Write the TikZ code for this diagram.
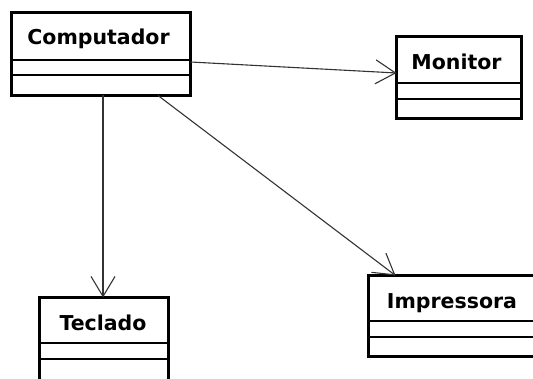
\documentclass[tikz,border=0pt]{standalone}
\usepackage{fontspec}
\setmainfont{DejaVu Sans}
\usetikzlibrary{arrows.meta}
\begin{document}
\begin{tikzpicture}[x=1pt,y=1pt,
  classbox/.style={draw=black, line width=3pt, inner sep=0pt, outer sep=0pt, fill=white},
  title/.style={anchor=base, inner sep=0pt, font=\fontsize{20.5}{23}\selectfont\bfseries},
  sep/.style={draw=black, line width=1.2pt},
  assoc/.style={draw=black!80, line width=1.1pt, -{Straight Barb[length=20pt, width=24pt, line width=1.1pt]}}
]
\useasboundingbox (0,0) rectangle (533,378);
\clip (0,0) rectangle (533,378);

% class boxes
\node[classbox, minimum width=179pt, minimum height=83pt] (comp) at (101,324) {};
\node[classbox, minimum width=125pt, minimum height=82pt] (mon)  at (459,300.5) {};
\node[classbox, minimum width=129pt, minimum height=84pt] (tec)  at (104,38.5) {};
\node[classbox, minimum width=180pt, minimum height=81pt] (imp)  at (458.5,62) {};

% class names
\node[title] (compname) at (98.5,333) {Computador};
\node[title] (monname)  at (456.5,308) {Monitor};
\node[title] (tecname)  at (103,48) {Teclado};
\node[title] (impname)  at (452,70) {Impressora};

% compartment separators
\draw[sep] (comp.west |- 0,318) -- (comp.east |- 0,318);
\draw[sep] (comp.west |- 0,303) -- (comp.east |- 0,303);
\draw[sep] (mon.west |- 0,295) -- (mon.east |- 0,295);
\draw[sep] (mon.west |- 0,279) -- (mon.east |- 0,279);
\draw[sep] (tec.west |- 0,35) -- (tec.east |- 0,35);
\draw[sep] (tec.west |- 0,19) -- (tec.east |- 0,19);
\draw[sep] (imp.west |- 0,57) -- (imp.east |- 0,57);
\draw[sep] (imp.west |- 0,41) -- (imp.east |- 0,41);

% associations
\draw[assoc] ([yshift=-8pt]comp.east) -- ([yshift=4.5pt]mon.west);
\draw[assoc] ([xshift=2pt]comp.south) -- ([xshift=-1pt]tec.north);
\draw[assoc] ([xshift=57pt]comp.south) -- ([xshift=27pt]imp.north west);
\end{tikzpicture}
\end{document}
